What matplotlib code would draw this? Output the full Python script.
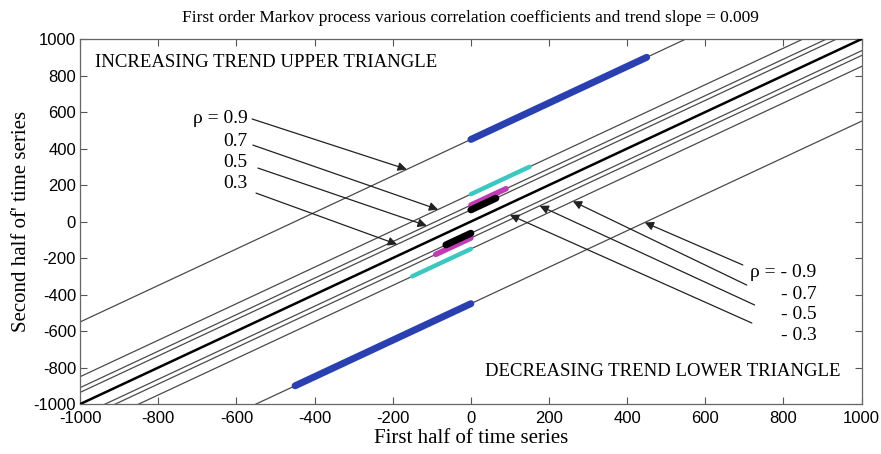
import matplotlib
matplotlib.use("Agg")
from matplotlib import pyplot as plt
import numpy as np

plt.rcParams['axes.unicode_minus'] = False

# offsets of the parallel trend lines (one per |rho|) and their colours
rho_labels = ['0.9', '0.7', '0.5', '0.3']
offsets = [450, 150, 90, 64]
cluster_colors = ['#2a3fb0', '#3cc8c0', '#c03cb4', '#000000']
cluster_widths = [5.0, 3.2, 4.0, 5.0]

# arrow tips (x on the target line) and arrow tails for the annotations
upper_tip_x = [-164, -84, -113, -189]
upper_tail = [(-560, 562), (-558, 419), (-545, 293), (-550, 156)]
upper_text_y = [562, 436, 321, 211]
lower_labels = ['\u03c1 = - 0.9', '- 0.7', '- 0.5', '- 0.3']
lower_tip_x = [445, 261, 176, 100]
lower_tail = [(696, -238), (706, -348), (726, -457), (719, -556)]
lower_text_y = [-277, -397, -512, -627]

ticks = list(range(-1000, 1001, 200))
serif = 'Liberation Serif'

fig = plt.figure(figsize=(8.81, 4.54), dpi=100)
ax = fig.add_axes([0.091, 0.110, 0.887, 0.804])

line_x = np.array([-1000, 1000])
# central y = x line
ax.plot(line_x, line_x, color='black', lw=1.8, zorder=3)
# parallel lines above and below
for off in offsets:
    ax.plot(line_x, line_x + off, color='#4a4a4a', lw=0.9, zorder=2)
    ax.plot(line_x, line_x - off, color='#4a4a4a', lw=0.9, zorder=2)

# clusters of points sitting on the shifted lines
for off, c, w in zip(offsets, cluster_colors, cluster_widths):
    up_x = np.array([0, off])
    ax.plot(up_x, up_x + off, color=c, lw=w, solid_capstyle='round', zorder=4)
    lo_x = np.array([-off, 0])
    ax.plot(lo_x, lo_x - off, color=c, lw=w, solid_capstyle='round', zorder=4)

arrow_style = dict(arrowstyle='-|>', color='#222222', lw=0.9,
                   mutation_scale=13, shrinkA=0, shrinkB=0)

# positive rho annotations (upper triangle)
for i, (lab, off) in enumerate(zip(rho_labels, offsets)):
    tx = upper_tip_x[i]
    ax.annotate('', xy=(tx, tx + off), xytext=upper_tail[i],
                arrowprops=arrow_style, zorder=5)
    text = '\u03c1 = ' + lab if i == 0 else lab
    ax.text(-572, upper_text_y[i], text, ha='right', va='center',
            fontsize=14, family=serif)

# negative rho annotations (lower triangle)
for i, off in enumerate(offsets):
    tx = lower_tip_x[i]
    ax.annotate('', xy=(tx, tx - off), xytext=lower_tail[i],
                arrowprops=arrow_style, zorder=5)
    ax.text(885, lower_text_y[i], lower_labels[i], ha='right', va='center',
            fontsize=14, family=serif)

ax.text(-962, 874, 'INCREASING TREND UPPER TRIANGLE', ha='left', va='center',
        fontsize=13.5, family=serif)
ax.text(36, -824, 'DECREASING TREND LOWER TRIANGLE', ha='left', va='center',
        fontsize=13.5, family=serif)

ax.set_xlim(-1000, 1000)
ax.set_ylim(-1000, 1000)
ax.set_xticks(ticks)
ax.set_yticks(ticks)
ax.tick_params(direction='in', top=True, right=True, length=5,
               width=0.8, color='#555555', labelsize=12)
ax.tick_params(axis='x', pad=5)
ax.tick_params(axis='y', pad=3)
for lbl in ax.get_xticklabels() + ax.get_yticklabels():
    lbl.set_family('Liberation Sans')
for sp in ax.spines.values():
    sp.set_color('#666666')
    sp.set_linewidth(0.9)

ax.set_title('First order Markov process various correlation coefficients and trend slope = 0.009',
             fontsize=12.5, family=serif, pad=12)
ax.set_xlabel('First half of time series', fontsize=15, family=serif, labelpad=2)
ax.set_ylabel("Second half of' time series", fontsize=15, family=serif, labelpad=2)

fig.savefig('out.png', dpi=100)
